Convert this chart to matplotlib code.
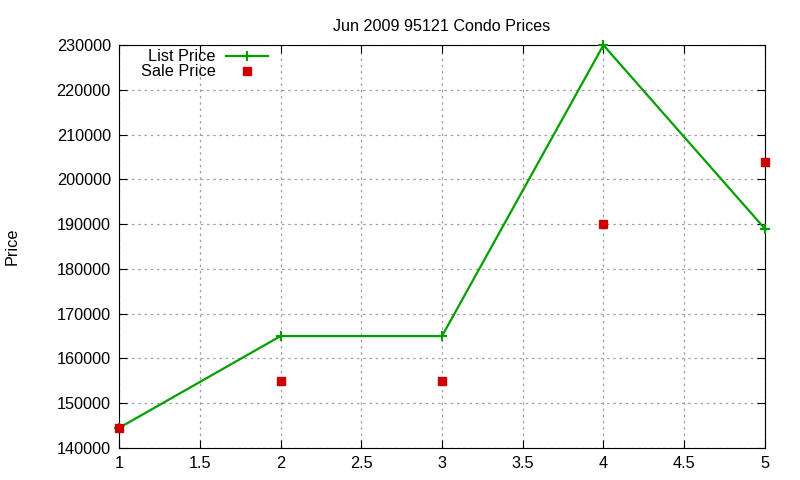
import matplotlib.pyplot as plt
import numpy as np

plt.rcParams['font.family'] = ['Liberation Sans', 'DejaVu Sans']

# data
x = [1, 2, 3, 4, 5]
list_price = [144500, 165000, 165000, 230000, 189000]
sale_price = [144500, 155000, 155000, 190000, 204000]

fig = plt.figure(figsize=(8, 4.8), dpi=100)
ax = fig.add_axes([0.149, 0.0667, 0.807, 0.8393])

ax.plot(x, list_price, color='#00a000', lw=1.6, marker='+', ms=7, mew=1.5,
        label='List Price', clip_on=False, zorder=3)
ax.plot(x, sale_price, color='#cc0000', lw=0, marker='s', ms=6,
        label='Sale Price', clip_on=False, zorder=4)

ax.set_xlim(1, 5)
ax.set_ylim(140000, 230000)
ax.set_xticks(np.arange(1, 5.01, 0.5))
ax.set_xticklabels(['1', '1.5', '2', '2.5', '3', '3.5', '4', '4.5', '5'])
ax.set_yticks(np.arange(140000, 230001, 10000))
ax.tick_params(direction='in', top=True, right=True, labelsize=11.7, length=6, pad=6)
ax.grid(True, color='#a0a0a0', linestyle=(0, (2, 3)), lw=0.9)

ax.set_title('Jun 2009 95121 Condo Prices', fontsize=11.6, pad=10)
ax.set_ylabel('Price', fontsize=11.7)
ax.yaxis.set_label_coords(-0.155, 0.5)

leg = ax.legend(loc='upper right', bbox_to_anchor=(0.248, 1.018), markerfirst=False,
                frameon=False, fontsize=11.7, handlelength=2.6, labelspacing=0.0,
                handletextpad=0.6, borderaxespad=0.3)
for t in leg.get_texts():
    t.set_ha('right')
leg._legend_box.align = 'right'

fig.savefig('out.png', dpi=100)
